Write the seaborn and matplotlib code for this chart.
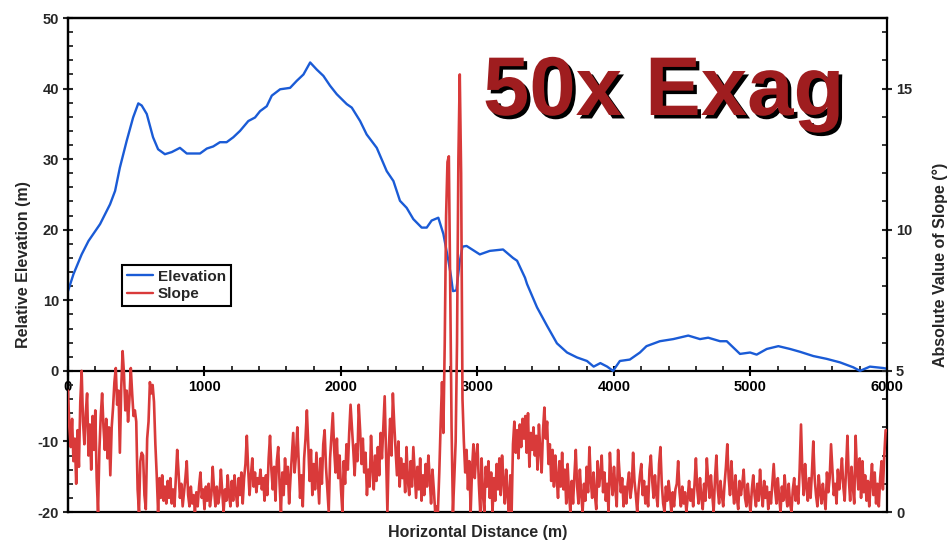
import numpy as np
import pandas as pd
import seaborn as sns
import matplotlib.pyplot as plt
from matplotlib.ticker import MultipleLocator
from matplotlib.lines import Line2D
import matplotlib.patheffects as pe

# Elevation profile along the transect (distance in m, relative elevation in m)
elev_dist = [0, 40, 100, 150, 235, 308, 345, 380, 430, 477, 515, 540, 577, 623, 660,
             710, 760, 820, 870, 967, 1017, 1064, 1113, 1162, 1211, 1260, 1321, 1370,
             1407, 1456, 1493, 1554, 1627, 1676, 1725, 1774, 1822, 1871, 1920, 1969,
             2042, 2079, 2140, 2188, 2262, 2335, 2384, 2432, 2481, 2530, 2591, 2628,
             2664, 2713, 2750, 2787, 2805, 2820, 2845, 2870, 2890, 2920, 3017, 3090,
             3187, 3260, 3290, 3348, 3363, 3436, 3509, 3582, 3656, 3729, 3802, 3851,
             3900, 3950, 3993, 4043, 4116, 4190, 4238, 4336, 4434, 4544, 4630, 4690,
             4777, 4826, 4923, 4997, 5045, 5119, 5204, 5290, 5363, 5460, 5558, 5656,
             5753, 5802, 5875, 5973, 6000]
elev_m = [11.3, 13.7, 16.5, 18.4, 20.8, 23.6, 25.5, 28.8, 32.6, 35.9, 37.9, 37.6, 36.4,
          33.1, 31.4, 30.7, 31.0, 31.6, 30.8, 30.8, 31.5, 31.8, 32.4, 32.4, 33.1, 34.0,
          35.4, 35.9, 36.8, 37.5, 39.0, 39.9, 40.1, 41.1, 42.0, 43.7, 42.7, 41.8, 40.4,
          39.2, 37.8, 37.3, 35.4, 33.5, 31.6, 28.3, 26.9, 24.1, 23.1, 21.5, 20.3, 20.3,
          21.3, 21.7, 19.4, 15.6, 13.5, 11.3, 11.4, 15.5, 17.6, 17.7, 16.5, 17.0, 17.2,
          16.0, 15.6, 13.2, 12.3, 9.0, 6.4, 3.9, 2.6, 1.9, 1.4, 0.6, 1.1, 0.6, 0.0, 1.4,
          1.6, 2.6, 3.5, 4.2, 4.5, 5.0, 4.5, 4.7, 4.2, 4.2, 2.4, 2.6, 2.3, 3.1, 3.5, 3.1,
          2.7, 2.1, 1.7, 1.2, 0.5, 0.0, 0.6, 0.4, 0.3]

# Absolute slope (degrees), one reading every 10 m from 0 to 6000 m (one row = 300 m)
slope_step = 10
slope_deg = [
    4.3, 3.0, 2.3, 3.3, 1.8, 2.6, 1.0, 2.9, 1.6, 3.9, 5.0, 3.2, 2.4, 3.5, 4.2, 2.0, 3.1, 1.5, 3.4, 2.2, 3.6, 1.2, 0.0, 2.2, 3.4, 4.2, 3.0, 2.2, 3.3, 1.9,
    3.0, 1.3, 3.0, 3.7, 4.6, 5.1, 3.8, 4.3, 2.1, 4.4, 5.7, 4.9, 3.6, 4.3, 3.2, 4.0, 5.1, 4.2, 3.4, 3.6, 3.2, 0.8, 0.0, 1.8, 2.1, 2.0, 0.6, 0.1, 2.6, 3.2,
    4.6, 4.2, 4.5, 3.9, 2.4, 1.3, 0.0, 1.2, 0.5, 1.3, 0.4, 0.9, 0.3, 1.1, 0.5, 1.2, 0.3, 0.8, 0.2, 1.2, 2.2, 1.4, 0.5, 1.0, 0.2, 0.7, 1.2, 1.8, 0.6, 0.2,
    0.9, 0.3, 0.6, 0.0, 0.7, 0.2, 0.9, 1.4, 0.5, 0.8, 0.1, 0.9, 0.4, 1.0, 0.2, 0.6, 1.6, 0.8, 0.2, 0.9, 0.3, 0.6, 1.5, 0.7, 0.0, 0.8, 0.4, 1.3, 0.6, 0.2,
    1.1, 0.4, 1.3, 0.7, 0.2, 1.2, 0.6, 1.4, 0.3, 1.2, 1.7, 2.7, 1.5, 0.6, 1.3, 1.9, 0.9, 1.4, 0.7, 1.2, 1.0, 1.5, 0.8, 1.2, 0.4, 1.3, 0.6, 1.9, 2.7, 1.5,
    0.8, 1.6, 0.4, 1.8, 2.3, 1.0, 0.0, 1.4, 0.6, 1.9, 1.0, 1.6, 0.3, 1.2, 2.0, 2.8, 1.4, 2.0, 3.0, 1.8, 0.5, 1.3, 0.2, 1.9, 2.6, 3.6, 2.4, 1.1, 2.2, 0.6,
    1.7, 0.8, 2.1, 1.2, 0.3, 1.9, 1.0, 2.4, 2.9, 1.6, 0.8, 0.0, 1.9, 2.7, 3.5, 2.2, 1.4, 2.6, 1.2, 2.0, 0.8, 0.0, 1.8, 1.0, 2.4, 1.5, 2.8, 3.8, 3.0, 2.2,
    1.3, 2.4, 1.8, 3.8, 2.9, 1.7, 2.6, 1.4, 2.1, 0.6, 1.5, 0.9, 2.7, 1.6, 0.8, 2.0, 1.1, 2.3, 1.3, 2.8, 1.9, 3.0, 4.1, 2.0, 0.0, 2.2, 3.3, 2.0, 4.2, 3.1,
    2.2, 1.3, 2.5, 0.9, 1.9, 1.2, 1.7, 0.7, 2.3, 1.1, 0.6, 1.8, 0.9, 2.3, 1.4, 0.5, 1.6, 0.8, 1.9, 0.4, 1.3, 0.6, 1.7, 0.9, 2.0, 1.2, 0.3, 1.5, 0.8, 0.0,
    0.2, 0.0, 1.4, 3.1, 4.6, 2.8, 6.0, 10.5, 12.4, 12.6, 8.0, 3.0, 0.0, 1.2, 2.5, 6.0, 12.5, 15.5, 12.0, 4.0, 2.5, 1.4, 2.2, 0.8, 1.8, 0.0, 1.5, 2.4, 1.2, 2.0,
    2.4, 1.0, 0.0, 1.9, 0.6, 0.0, 1.6, 0.9, 1.8, 0.5, 1.4, 0.0, 1.2, 0.4, 1.7, 0.8, 1.9, 0.6, 2.0, 1.1, 0.3, 1.5, 0.6, 0.0, 1.3, 0.0, 2.4, 3.2, 2.1, 2.9,
    1.9, 3.1, 2.3, 3.3, 2.6, 3.4, 2.1, 3.5, 1.6, 2.8, 2.2, 3.0, 2.0, 2.7, 1.5, 3.1, 2.2, 1.4, 2.9, 3.7, 2.6, 3.2, 1.7, 2.4, 1.1, 2.2, 0.9, 2.0, 1.2, 0.5,
    1.8, 0.9, 2.1, 0.8, 1.5, 0.3, 1.7, 0.7, 0.0, 1.1, 0.3, 1.3, 2.2, 0.9, 0.3, 1.5, 0.6, 0.0, 1.0, 0.4, 1.6, 0.7, 2.3, 1.1, 0.5, 1.4, 0.6, 0.1, 1.8, 0.9,
    1.3, 2.0, 0.7, 1.4, 0.4, 1.0, 0.0, 2.1, 1.2, 0.6, 1.6, 0.8, 0.2, 2.2, 1.4, 0.7, 1.2, 0.2, 0.9, 0.3, 1.0, 1.4, 0.5, 0.9, 2.1, 1.1, 0.6, 0.0, 0.8, 1.3,
    1.7, 0.6, 1.1, 0.3, 0.9, 0.2, 1.5, 2.0, 1.1, 0.5, 1.3, 0.6, 0.2, 1.7, 2.3, 1.0, 0.3, 0.0, 0.9, 0.4, 1.1, 0.6, 0.0, 0.7, 0.2, 0.8, 1.0, 1.8, 0.7, 0.2,
    0.9, 0.3, 0.7, 0.0, 0.5, 1.1, 0.4, 0.8, 0.2, 1.0, 1.9, 0.8, 0.3, 1.2, 0.5, 0.1, 1.0, 0.4, 1.9, 1.1, 0.5, 1.3, 0.6, 0.0, 1.2, 2.0, 0.8, 0.3, 1.1, 0.6,
    0.2, 1.0, 1.6, 2.4, 1.2, 0.6, 1.8, 0.9, 0.3, 1.3, 0.5, 0.1, 1.1, 0.6, 1.0, 1.5, 0.5, 0.2, 1.0, 0.4, 0.0, 0.8, 1.3, 0.6, 0.2, 1.0, 0.4, 1.5, 0.7, 0.2,
    1.1, 0.5, 0.9, 0.1, 0.7, 0.3, 1.0, 1.7, 0.8, 0.3, 1.2, 0.5, 0.0, 0.9, 0.4, 1.3, 0.6, 0.2, 1.0, 0.3, 0.0, 0.8, 1.2, 0.4, 0.9, 0.3, 1.5, 3.1, 1.4, 0.6,
    1.7, 0.9, 0.4, 1.2, 0.5, 1.4, 2.5, 1.2, 0.6, 0.2, 1.3, 0.7, 0.3, 1.0, 0.5, 0.1, 1.4, 0.7, 1.2, 2.4, 1.5, 0.6, 1.0, 0.3, 1.5, 0.8, 1.3, 1.9, 0.9, 0.4,
    1.5, 2.7, 1.2, 0.4, 1.6, 0.9, 0.3, 2.7, 1.5, 0.8, 1.9, 0.5, 1.8, 0.7, 1.3, 0.4, 1.1, 0.2, 1.0, 1.7, 0.6, 1.4, 0.3, 1.0, 0.2, 1.2, 1.8, 0.8, 2.0, 2.9,
    2.9,
]
slope_dist = np.arange(len(slope_deg)) * slope_step

x_ticks = [0, 1000, 2000, 3000, 4000, 5000, 6000]
elev_ticks = [-20, -10, 0, 10, 20, 30, 40, 50]
slope_ticks = [0, 5, 10, 15]

elev_df = pd.DataFrame({"distance": elev_dist, "elevation": elev_m})
slope_df = pd.DataFrame({"distance": slope_dist, "slope": slope_deg})

BLUE = "#1a5bd6"
RED = "#d93a3a"

sns.set_theme(style="white")
plt.rcParams["font.family"] = ["Liberation Sans", "DejaVu Sans"]
plt.rcParams["font.weight"] = "bold"
plt.rcParams["axes.labelweight"] = "bold"
plt.rcParams["axes.unicode_minus"] = False

fig = plt.figure(figsize=(9.47, 5.43), dpi=100)
ax = fig.add_axes([68 / 947, 31 / 543, 819 / 947, 494 / 543])
ax2 = ax.twinx()

sns.lineplot(data=elev_df, x="distance", y="elevation", ax=ax, color=BLUE,
             linewidth=1.7, legend=False, zorder=3)
sns.lineplot(data=slope_df, x="distance", y="slope", ax=ax2, color=RED,
             linewidth=1.9, legend=False, zorder=3)

ax.set_xlim(0, 6000)
ax.set_ylim(-20, 50)
ax2.set_ylim(0, 17.5)

# x axis runs along the zero-elevation line
ax.spines["bottom"].set_position(("data", 0))
for sp in list(ax.spines.values()) + list(ax2.spines.values()):
    sp.set_linewidth(1.6)
    sp.set_color("black")
ax.spines["right"].set_visible(False)

ax.set_xticks(x_ticks)
ax.set_xticklabels([str(t) for t in x_ticks])
ax.xaxis.set_minor_locator(MultipleLocator(200))
ax.set_yticks(elev_ticks)
ax.yaxis.set_minor_locator(MultipleLocator(2))
ax2.set_yticks(slope_ticks)
ax2.yaxis.set_minor_locator(MultipleLocator(1))

ax.tick_params(axis="x", which="major", direction="inout", length=7, width=1.5,
               pad=3, labelsize=10.5, bottom=True, colors="black")
ax.tick_params(axis="x", which="minor", direction="in", length=3.5, width=1.3,
               bottom=True)
ax.tick_params(axis="y", which="major", direction="inout", length=7, width=1.5,
               pad=3, labelsize=10.5, left=True)
ax.tick_params(axis="y", which="minor", direction="in", length=3.5, width=1.3,
               left=True)
ax2.tick_params(axis="y", which="major", direction="inout", length=7, width=1.5,
                pad=3, labelsize=10.5, right=True)
ax2.tick_params(axis="y", which="minor", direction="in", length=3.5, width=1.3,
                right=True)
for lab in ax.get_xticklabels() + ax.get_yticklabels() + ax2.get_yticklabels():
    lab.set_fontweight("bold")

ax.set_xlabel("Horizontal Distance (m)", fontsize=11.5, fontweight="bold")
ax.xaxis.set_label_coords(0.5, -0.026)
ax.set_ylabel("Relative Elevation (m)", fontsize=11.5, fontweight="bold")
ax.yaxis.set_label_coords(-0.0446, 0.5)
ax2.set_ylabel("Absolute Value of Slope (°)", fontsize=11.5, fontweight="bold")
ax2.yaxis.set_label_coords(1.056, 0.5)

handles = [Line2D([], [], color=BLUE, lw=1.7), Line2D([], [], color=RED, lw=1.7)]
leg = ax2.legend(handles, ["Elevation", "Slope"], loc="upper left",
                 bbox_to_anchor=(0.066, 0.5), borderaxespad=0, fancybox=False,
                 framealpha=1, edgecolor="black", handlelength=1.7,
                 handletextpad=0.35, labelspacing=0.25, borderpad=0.3,
                 prop={"weight": "bold", "size": 11})
leg.get_frame().set_linewidth(1.5)

fig.text(483 / 947, 1 - 115 / 543, "50x Exag", fontsize=60, fontweight="bold",
         color="#9f1d1f", ha="left", va="baseline",
         path_effects=[pe.withSimplePatchShadow(offset=(2.5, -2.5),
                                                shadow_rgbFace="black", alpha=1.0)])

fig.savefig("out.png", dpi=100)
